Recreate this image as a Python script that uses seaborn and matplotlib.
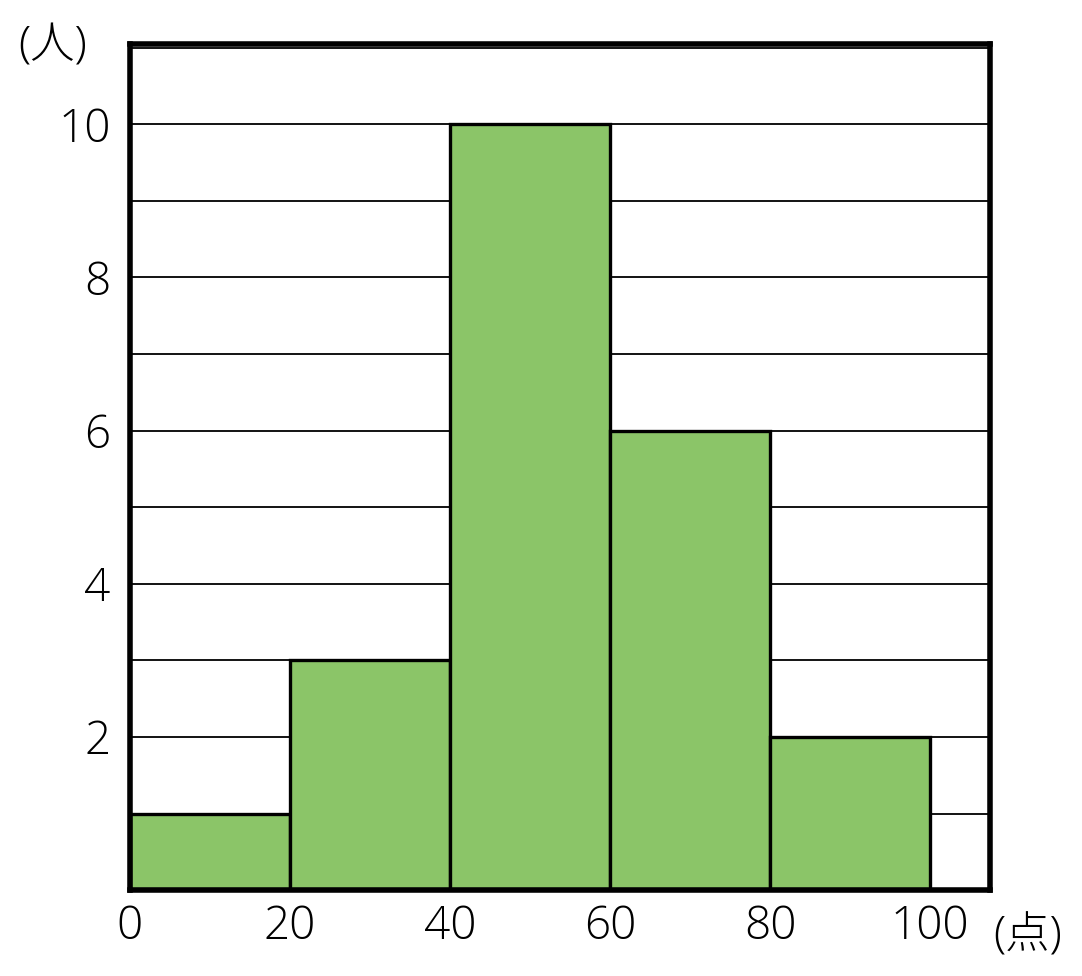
import matplotlib
matplotlib.use("Agg")
import matplotlib.pyplot as plt
import seaborn as sns

# score bins (点) and number of people (人)
bin_edges = [0, 20, 40, 60, 80, 100]
bin_centers = [10, 30, 50, 70, 90]
counts = [1, 3, 10, 6, 2]
x_ticks = [0, 20, 40, 60, 80, 100]
y_ticks = [2, 4, 6, 8, 10]

sns.set_theme(style="white")
plt.rcParams['font.family'] = ['Open Sans', 'Noto Sans CJK JP', 'DejaVu Sans']
plt.rcParams['text.color'] = 'black'

fig = plt.figure(figsize=(10.82, 9.76), dpi=100)
ax = fig.add_axes([0.120, 0.088, 0.795, 0.867])

ax.set_axisbelow(True)
ax.set_yticks(range(1, 12), minor=True)
ax.grid(True, axis='y', which='both', color='black', linewidth=1.3)

sns.histplot(x=bin_centers, weights=counts, bins=bin_edges, ax=ax,
             color='#8bc568', alpha=1.0, edgecolor='black', linewidth=2.4)

ax.set_xlim(0, 107.5)
ax.set_ylim(0, 11.05)
ax.set_xticks(x_ticks)
ax.set_yticks(y_ticks)
ax.tick_params(axis='both', which='both', length=0, labelsize=33, colors='black')
ax.tick_params(axis='x', pad=10)
ax.tick_params(axis='y', pad=14)
for lbl in ax.get_xticklabels() + ax.get_yticklabels():
    lbl.set_fontweight('light')
ax.set_xlabel('')
ax.set_ylabel('')

for spine in ax.spines.values():
    spine.set_visible(True)
    spine.set_color('black')
    spine.set_linewidth(4)

paren = ['Open Sans', 'Noto Sans CJK JP', 'DejaVu Sans']
fig.text(0.049, 0.952, '(人)', fontsize=32, ha='center', va='center',
         family=paren, fontweight='light')
fig.text(0.950, 0.040, '(点)', fontsize=32, ha='center', va='center',
         family=paren, fontweight='light')

plt.savefig('out.png', dpi=100)
